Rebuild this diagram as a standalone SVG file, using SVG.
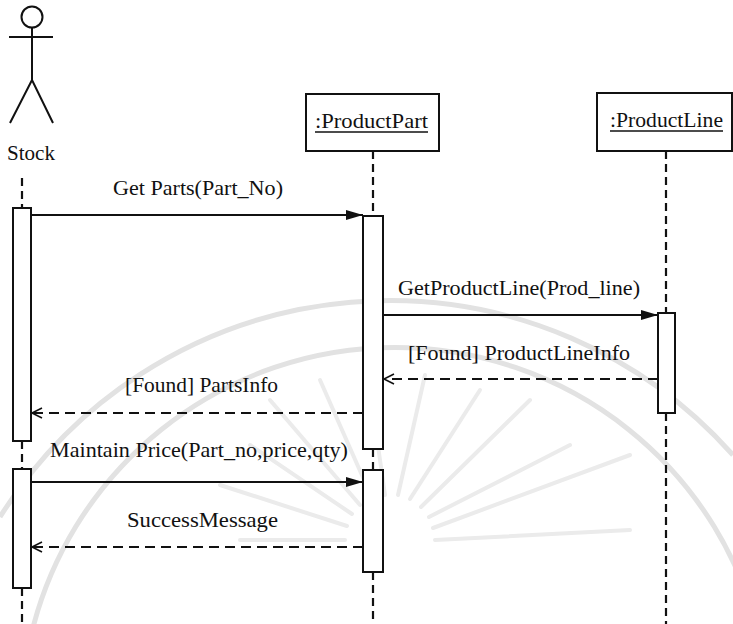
<svg xmlns="http://www.w3.org/2000/svg" width="733" height="624" viewBox="0 0 733 624" font-family="Liberation Serif, Times New Roman, serif" font-size="21">
<defs>
<style>
.t{fill:#111}
.box{fill:#fff;stroke:#111;stroke-width:2}
.act{fill:#fff;stroke:#111;stroke-width:2}
.life{stroke:#111;stroke-width:2.2;stroke-dasharray:8 5;fill:none}
.msg{stroke:#111;stroke-width:2;fill:none}
.ret{stroke:#111;stroke-width:1.8;stroke-dasharray:10 6;fill:none}
.wm{fill:none;stroke:#e2e2e2;stroke-width:5}
.wr{stroke:#ebebeb;stroke-width:4;stroke-linecap:round}
</style>
<marker id="filled" markerUnits="userSpaceOnUse" markerWidth="18" markerHeight="12" refX="17" refY="5" orient="auto">
<path d="M0,0 L17,5 L0,10 Z" fill="#111"/>
</marker>
<marker id="open" markerUnits="userSpaceOnUse" markerWidth="14" markerHeight="14" refX="11" refY="6" orient="auto">
<path d="M1,1 L11,6 L1,11" fill="none" stroke="#111" stroke-width="1.6"/>
</marker>
</defs>
<rect width="733" height="624" fill="#fff"/>
<g id="watermark">
<path class="wm" d="M0,517 A459,459 0 0 1 733,455"/>
<path class="wm" d="M30,640 A374,374 0 0 1 760,640"/>
<g transform="translate(390,540)">
<line class="wr" x1="-45" y1="0" x2="-150" y2="0"/>
<line class="wr" x1="-43" y1="-14" x2="-170" y2="-55"/>
<line class="wr" x1="-38" y1="-26" x2="-140" y2="-95"/>
<line class="wr" x1="-30" y1="-35" x2="-120" y2="-140"/>
<line class="wr" x1="-18" y1="-42" x2="-70" y2="-160"/>
<line class="wr" x1="-5" y1="-45" x2="-20" y2="-150"/>
<line class="wr" x1="8" y1="-45" x2="35" y2="-165"/>
<line class="wr" x1="20" y1="-41" x2="90" y2="-150"/>
<line class="wr" x1="31" y1="-33" x2="140" y2="-140"/>
<line class="wr" x1="39" y1="-23" x2="180" y2="-95"/>
<line class="wr" x1="43" y1="-12" x2="240" y2="-85"/>
<line class="wr" x1="45" y1="0" x2="240" y2="-10"/>
</g>
</g>
<g id="lifelines">
<line class="life" x1="22" y1="178" x2="22" y2="208"/>
<line class="life" x1="22" y1="441" x2="22" y2="469"/>
<line class="life" x1="22" y1="588" x2="22" y2="624"/>
<line class="life" x1="373" y1="151" x2="373" y2="216"/>
<line class="life" x1="373" y1="449" x2="373" y2="470"/>
<line class="life" x1="373" y1="572" x2="373" y2="624"/>
<line class="life" x1="666" y1="151" x2="666" y2="313"/>
<line class="life" x1="666" y1="413" x2="666" y2="624"/>
</g>
<g id="stock">
<circle cx="32" cy="17" r="10.5" fill="none" stroke="#111" stroke-width="2"/>
<line x1="9" y1="37" x2="53" y2="37" stroke="#111" stroke-width="2"/>
<line x1="32" y1="27.5" x2="32" y2="80" stroke="#111" stroke-width="2"/>
<polyline points="10,123 32,80 53,123" fill="none" stroke="#111" stroke-width="2"/>
<text class="t" x="7" y="160" textLength="48" lengthAdjust="spacingAndGlyphs">Stock</text>
<rect class="act" x="13" y="208" width="18" height="233"/>
<rect class="act" x="13" y="469" width="18" height="119"/>
</g>
<g id="productpart">
<rect class="box" x="306" y="94" width="133" height="57"/>
<text class="t" x="315" y="128" textLength="113" lengthAdjust="spacingAndGlyphs">:ProductPart</text>
<line x1="315" y1="132" x2="428" y2="132" stroke="#111" stroke-width="1.3"/>
<rect class="act" x="363" y="216" width="20" height="233"/>
<rect class="act" x="363" y="470" width="20" height="102"/>
</g>
<g id="productline">
<rect class="box" x="597" y="93" width="135" height="58"/>
<text class="t" x="610" y="127" textLength="113" lengthAdjust="spacingAndGlyphs">:ProductLine</text>
<line x1="610" y1="131" x2="723" y2="131" stroke="#111" stroke-width="1.3"/>
<rect class="act" x="658" y="313" width="17" height="100"/>
</g>
<g id="connectors">
<line class="msg" x1="31" y1="215" x2="363" y2="215" marker-end="url(#filled)"/>
<text class="t" x="113" y="195" textLength="170" lengthAdjust="spacingAndGlyphs">Get Parts(Part_No)</text>
<line class="msg" x1="383" y1="315" x2="658" y2="315" marker-end="url(#filled)"/>
<text class="t" x="398" y="295" textLength="242" lengthAdjust="spacingAndGlyphs">GetProductLine(Prod_line)</text>
<line class="ret" x1="658" y1="379" x2="384" y2="379" marker-end="url(#open)"/>
<text class="t" x="408" y="360" textLength="222" lengthAdjust="spacingAndGlyphs">[Found] ProductLineInfo</text>
<line class="ret" x1="363" y1="413" x2="32" y2="413" marker-end="url(#open)"/>
<text class="t" x="125" y="392" textLength="153" lengthAdjust="spacingAndGlyphs">[Found] PartsInfo</text>
<line class="msg" x1="31" y1="482" x2="363" y2="482" marker-end="url(#filled)"/>
<text class="t" x="50" y="457" textLength="298" lengthAdjust="spacingAndGlyphs">Maintain Price(Part_no,price,qty)</text>
<line class="ret" x1="363" y1="547" x2="32" y2="547" marker-end="url(#open)"/>
<text class="t" x="127" y="527" textLength="151" lengthAdjust="spacingAndGlyphs">SuccessMessage</text>
</g>
</svg>
